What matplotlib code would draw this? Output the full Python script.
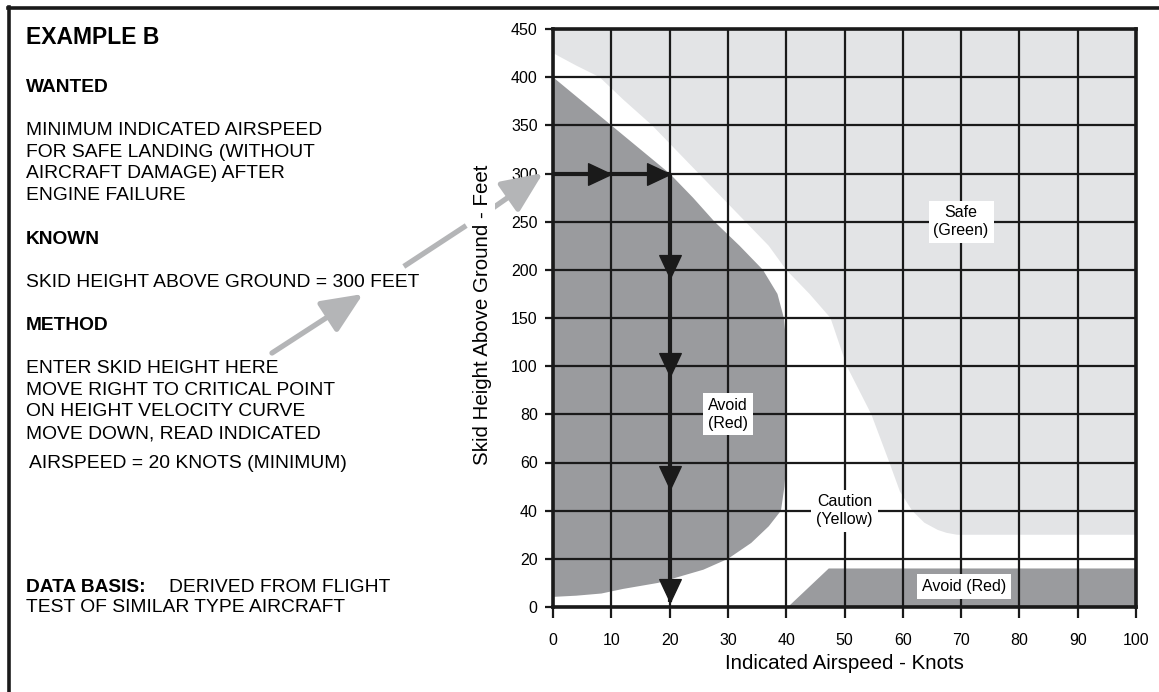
import numpy as np
import matplotlib
matplotlib.use("Agg")
import matplotlib.pyplot as plt
from matplotlib.lines import Line2D
from matplotlib.patches import FancyArrowPatch

plt.rcParams["font.family"] = ["Liberation Sans", "DejaVu Sans"]

W, H = 1159, 692

# ---- data ----
knots = [0, 10, 20, 30, 40, 50, 60, 70, 80, 90, 100]
heights = [0, 20, 40, 60, 80, 100, 150, 200, 250, 300, 350, 400, 450]

# safe (green) region lower-left boundary
safe_kt = [0, 4, 8, 12, 17, 21, 25, 29, 33, 37, 40, 44, 47.6, 49, 50.4, 54.6, 57.7, 59.5, 61.6, 63.7, 66, 67.5, 69.3, 100]
safe_ft = [425, 412, 400, 377, 350, 325, 300, 275, 250, 225, 200, 175, 150, 125, 100, 80, 60, 48, 40, 35, 32, 30.8, 30, 30]

# avoid (red) region, upper-left
avoid_kt = [0, 5, 10, 15, 20, 24, 27.7, 32, 36, 38.5, 39.6, 40, 40, 40, 40, 39.7, 39.1, 37, 34, 30, 25.8, 18, 12, 8.3, 4, 0]
avoid_ft = [400, 375, 350, 325, 300, 275, 250, 225, 200, 175, 150, 125, 100, 80, 60, 50, 40, 33.5, 26.6, 20, 15.5, 10, 7.5, 5.6, 4.7, 4.2]

# avoid (red) region, low and fast
low_kt = [40.3, 47.3, 100, 100]
low_ft = [0, 16, 16, 0]

# worked example path
entry_ft = 300
read_kt = 20
right_tips = [10, 20]
down_tips = [192, 96, 49, 2]

DARK = "#9a9b9e"
LIGHT = "#e3e4e6"
ARROW_GRAY = "#b4b5b7"
INK = "#1a1a1a"


def fwd(h):
    h = np.asarray(h, dtype=float)
    return np.where(h <= 100, h / 20.0, 5 + (h - 100) / 50.0)


def inv(p):
    p = np.asarray(p, dtype=float)
    return np.where(p <= 5, p * 20.0, 100 + (p - 5) * 50.0)


fig = plt.figure(figsize=(W / 100, H / 100), dpi=100)
ax = fig.add_axes([553 / W, (H - 607) / H, (1136 - 553) / W, (607 - 29) / H])
ax.set_yscale("function", functions=(fwd, inv))
ax.set_xlim(0, 100)
ax.set_ylim(0, 450)
ax.set_facecolor("white")

ax.fill(safe_kt + [100, 0], safe_ft + [450, 450], color=LIGHT, lw=0, zorder=1)
ax.fill(avoid_kt, avoid_ft, color=DARK, lw=0, zorder=2)
ax.fill(low_kt, low_ft, color=DARK, lw=0, zorder=2)

for k in knots:
    ax.axvline(k, color=INK, lw=1.6, zorder=3)
for h in heights:
    ax.axhline(h, color=INK, lw=1.6, zorder=3)

for s in ax.spines.values():
    s.set_linewidth(2.6)
    s.set_color(INK)
    s.set_zorder(4)

ax.set_xticks(knots)
ax.set_yticks(heights)
ax.set_yticklabels([str(h) for h in heights])
ax.minorticks_off()
ax.tick_params(axis="x", direction="out", length=8, width=1.6, pad=11, labelsize=11.5, color=INK)
ax.tick_params(axis="y", direction="out", length=6, width=1.6, pad=5, labelsize=11.5, color=INK)

# example path
ax.plot([0, read_kt], [entry_ft, entry_ft], color=INK, lw=3, zorder=5, solid_capstyle="butt")
ax.plot([read_kt, read_kt], [entry_ft, down_tips[-1]], color=INK, lw=3, zorder=5, solid_capstyle="butt")
down_m = [(0, 0), (-0.47, 1), (0.47, 1), (0, 0)]
right_m = [(0, 0), (-1, 0.47), (-1, -0.47), (0, 0)]
ax.plot(right_tips, [entry_ft] * len(right_tips), ls="none", marker=right_m, ms=33,
        color=INK, zorder=6)
ax.plot([read_kt] * len(down_tips), down_tips, ls="none", marker=down_m, ms=33,
        color=INK, zorder=6)

box = dict(boxstyle="square,pad=0.3", fc="white", ec="none")
ax.text(70, 250, "Safe\n(Green)", ha="center", va="center", fontsize=11.5, bbox=box, zorder=7, linespacing=1.2)
ax.text(30, 80, "Avoid\n(Red)", ha="center", va="center", fontsize=11.5, bbox=box, zorder=7, linespacing=1.2)
ax.text(50, 40, "Caution\n(Yellow)", ha="center", va="center", fontsize=11.5, bbox=box, zorder=7, linespacing=1.2)
ax.text(70.5, 8.5, "Avoid (Red)", ha="center", va="center", fontsize=11.5, bbox=box, zorder=7)

ax.set_xlabel("Indicated Airspeed - Knots", fontsize=14.8, labelpad=4)


def fx(px):
    return px / W


def fy(py):
    return 1 - py / H


# y label with white background (hides the gray arrow behind it)
fig.text(fx(482), fy(315), "Skid Height Above Ground - Feet", rotation=90, ha="center", va="center",
         fontsize=14.8, zorder=8, bbox=dict(boxstyle="square,pad=0.15", fc="white", ec="none"))

# frame
fig.add_artist(Line2D([fx(9), fx(9)], [fy(7), 0], color=INK, lw=2.6, transform=fig.transFigure))
fig.add_artist(Line2D([fx(8), 1], [fy(8), fy(8)], color=INK, lw=2.6, transform=fig.transFigure))

# left-hand text
L = fx(26)
fig.text(L, fy(37), "EXAMPLE B", fontsize=16.5, weight="bold", va="center")
fig.text(L, fy(87), "WANTED", fontsize=13.8, weight="bold", va="center")
fig.text(L, fy(163), "MINIMUM INDICATED AIRSPEED\nFOR SAFE LANDING (WITHOUT\nAIRCRAFT DAMAGE) AFTER\nENGINE FAILURE",
         fontsize=13.9, va="center", linespacing=1.36)
fig.text(L, fy(239), "KNOWN", fontsize=13.8, weight="bold", va="center")
fig.text(L, fy(282), "SKID HEIGHT ABOVE GROUND = 300 FEET", fontsize=13.9, va="center")
fig.text(L, fy(325), "METHOD", fontsize=13.8, weight="bold", va="center")
fig.text(L, fy(401), "ENTER SKID HEIGHT HERE\nMOVE RIGHT TO CRITICAL POINT\nON HEIGHT VELOCITY CURVE\nMOVE DOWN, READ INDICATED",
         fontsize=13.9, va="center", linespacing=1.36)
fig.text(fx(29), fy(463), "AIRSPEED = 20 KNOTS (MINIMUM)", fontsize=13.9, va="center")
fig.text(L, fy(587), "DATA BASIS:", fontsize=13.8, weight="bold", va="center")
fig.text(fx(169), fy(587), "DERIVED FROM FLIGHT", fontsize=13.9, va="center")
fig.text(L, fy(608), "TEST OF SIMILAR TYPE AIRCRAFT", fontsize=13.9, va="center")

# gray pointer arrow (segments broken by text)
arrow_kw = dict(arrowstyle="-|>,head_length=1.25,head_width=0.55", color=ARROW_GRAY, lw=3.8,
                shrinkA=0, shrinkB=0, mutation_scale=20)
fig.add_artist(FancyArrowPatch((fx(272), fy(353)), (fx(363), fy(294)),
               transform=fig.transFigure, zorder=6, **arrow_kw))
fig.add_artist(Line2D([fx(406), fx(464)], [fy(265), fy(227)], color=ARROW_GRAY, lw=3.8,
               transform=fig.transFigure, zorder=6))
fig.add_artist(FancyArrowPatch((fx(490), fy(210)), (fx(543), fy(173)),
               transform=fig.transFigure, zorder=6, **arrow_kw))

fig.savefig("out.png", dpi=100)
